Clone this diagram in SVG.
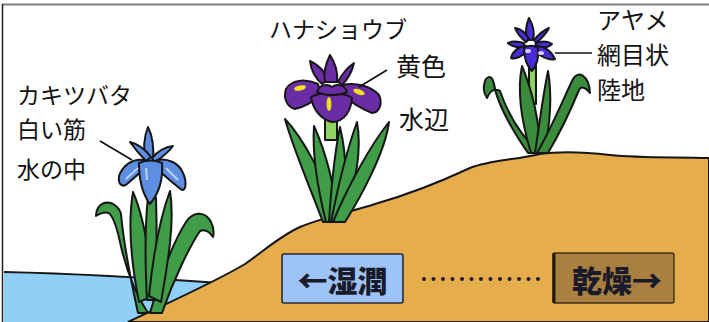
<svg xmlns="http://www.w3.org/2000/svg" width="709" height="322" viewBox="0 0 709 322">
  <style>
    .ol { stroke: #161616; stroke-width: 2; stroke-linejoin: round; stroke-linecap: round; }
    .leaf { fill: #3F9C47; }
    .leafd { fill: #3A8C3C; }
    .stem { fill: #90D262; }
    .blue { fill: #5E8EE2; }
    .purple { fill: #6A2DA6; }
    .violet { fill: #4A2CD6; }
    .yellow { fill: #F2E21C; stroke: none; }
    .lbl { font-family: "Noto Sans CJK JP", "Noto Sans", sans-serif; font-size: 23px; fill: #111; }
    .lbl-l { font-size: 25px; }
    .lbl-r { font-size: 24px; }
    .tag { font-family: "Noto Sans CJK JP", "Noto Sans", sans-serif; font-size: 30px; font-weight: 900; fill: #1A1B2A; }
    .lead { stroke: #111; stroke-width: 1.6; fill: none; }
  </style>

  <rect x="0" y="0" width="709" height="322" fill="#fff"/>

  <!-- frame -->
  <line x1="2" y1="4.5" x2="709" y2="4.5" stroke="#808080" stroke-width="2"/>
  <line x1="2.5" y1="4" x2="2.5" y2="322" stroke="#222" stroke-width="1.5"/>

  <!-- water and ground -->
  <g id="terrain">
    <path d="M4,272 Q100,274 232,284 L232,322 L4,322 Z" fill="#90CFF6"/>
    <path d="M4,272 Q100,274 232,284" fill="none" stroke="#161616" stroke-width="2.2"/>
    <path d="M128,322 C170,302 215,282 245,264 C265,250 280,236 300,227 C325,217 350,212 375,204 C410,194 440,182 470,168 C490,160 515,160 540,154 C560,151 585,152 610,155 C640,158 670,157 709,158 L709,322 Z"
          fill="#E6AD4D" stroke="#161616" stroke-width="2"/>
  </g>

  <!-- plant: カキツバタ -->
  <g id="kakitsubata">
    <path class="ol leaf" d="M138,313 C129,272 123,236 121,214 C119,206 111,201 104,203 C99,205 96,210 96,216 C101,213 106,211 110,214 C114,219 117,228 120,242 C127,274 138,298 148,313 Z"/>
    <path class="ol leaf" d="M150,313 C160,278 172,244 186,222 C194,210 206,212 211,222 C214,228 214,233 213,237 C209,231 204,229 200,231 C190,246 174,278 162,313 Z"/>
    <path class="ol leaf" d="M139,302 C131,262 128,222 133,192 C143,215 150,255 153,296 Z"/>
    <path class="ol leaf" d="M147,300 C145,262 145,224 148,197 L156,198 C157,232 157,266 156,300 Z"/>
    <path class="ol leaf" d="M149,296 C153,256 160,218 170,191 C175,222 168,262 161,302 Z"/>
    <!-- flower -->
    <path class="ol blue" d="M146,162 C143,150 144,137 148,127 C153,137 154,150 153,162 Z"/>
    <path class="ol blue" d="M146,161 C140,155 135,149 130,142 C138,144 145,149 151,157 Z"/>
    <path class="ol blue" d="M152,158 C158,151 165,147 173,146 C168,153 161,158 155,162 Z"/>
    <path class="ol blue" d="M144,160 C133,158 123,165 119,176 C118,184 122,188 127,184 C134,178 141,172 147,166 Z"/>
    <path class="ol blue" d="M157,160 C168,158 179,163 183,173 C187,182 186,190 182,190 C175,185 166,177 155,167 Z"/>
    <path class="ol blue" d="M139,163 C139,177 141,192 150,204 C160,192 163,177 162,163 C155,160 146,160 139,163 Z"/>
    <path d="M126,179 L138,168 M178,180 L166,168 M146,168 L147,180" stroke="#B8D2F6" stroke-width="2" fill="none"/>
  </g>

  <!-- plant: ハナショウブ -->
  <g id="hanashoubu">
    <path class="ol stem" d="M325,112 L337,112 L337,140 L325,140 Z"/>
    <path class="ol leaf" d="M323,222 C309,185 293,148 285,119 C303,138 325,178 338,220 Z"/>
    <path class="ol leaf" d="M326,222 C318,190 312,156 314,126 C327,155 335,190 338,222 Z"/>
    <path class="ol leaf" d="M329,222 C331,190 334,156 340,127 C348,160 346,195 340,222 Z"/>
    <path class="ol leaf" d="M331,222 C338,186 347,150 357,122 C363,155 352,195 342,222 Z"/>
    <path class="ol leaf" d="M333,222 C348,186 370,146 389,122 C385,152 362,195 345,222 Z"/>
    <!-- flower -->
    <path class="ol purple" d="M322,84 C315,78 311,70 310,61 C319,65 325,72 328,80 Z"/>
    <path class="ol purple" d="M338,82 C342,74 348,67 354,63 C352,72 348,79 342,85 Z"/>
    <path class="ol purple" d="M325,82 C323,72 326,63 330,55 C336,64 338,73 337,82 Z"/>
    <path class="ol purple" d="M318,84 C305,78 291,80 286,89 C283,98 287,107 295,109 C305,107 314,101 321,95 Z"/>
    <path class="ol purple" d="M342,85 C356,82 371,86 379,95 C383,104 379,113 372,113 C362,109 352,103 344,96 Z"/>
    <path class="ol purple" d="M311,97 C313,109 320,119 332,122 C345,122 351,110 352,98 C344,92 321,91 311,97 Z"/>
    <path class="ol purple" d="M317,92 C319,85 327,83 332,87 C337,83 345,85 347,92 C339,96 325,96 317,92 Z"/>
    <ellipse class="yellow" cx="300" cy="88" rx="6" ry="2.6" transform="rotate(-12 300 88)"/>
    <ellipse class="yellow" cx="359" cy="92" rx="6" ry="2.6" transform="rotate(20 359 92)"/>
    <ellipse class="yellow" cx="329" cy="104" rx="2.4" ry="7"/>
  </g>

  <!-- plant: アヤメ -->
  <g id="ayame">
    <path class="ol stem" d="M529,66 L536,66 L536,104 L529,104 Z"/>
    <path class="ol leafd" d="M528,153 C511,128 497,104 494,84 C492,74 485,75 484,86 C483,91 485,95 487,98 C490,91 494,88 500,91 C508,114 522,138 541,153 Z"/>
    <path class="ol leafd" d="M531,153 C521,120 517,90 522,66 C532,90 539,120 541,153 Z"/>
    <path class="ol leafd" d="M535,153 C540,120 543,95 548,71 C553,100 549,130 544,153 Z"/>
    <path class="ol leafd" d="M537,153 C553,125 565,95 573,79 C578,70 589,75 590,93 C585,87 581,86 579,90 C570,112 558,136 548,153 Z"/>
    <!-- flower -->
    <path class="ol violet" d="M527,40 C525,32 526,25 529,18 C533,25 535,33 533,40 Z"/>
    <path class="ol violet" d="M526,42 C521,38 517,33 515,28 C521,29 526,33 529,39 Z"/>
    <path class="ol violet" d="M534,40 C539,34 544,30 549,28 C546,34 541,39 536,43 Z"/>
    <path class="ol violet" d="M524,43 C518,41 512,41 508,43 C512,47 518,48 525,47 Z"/>
    <path class="ol violet" d="M536,43 C542,41 548,41 552,44 C548,48 541,48 535,47 Z"/>
    <path class="ol violet" d="M526,46 C519,46 513,51 511,58 C516,60 522,56 528,51 Z"/>
    <path class="ol violet" d="M536,46 C544,46 551,51 555,59 C549,61 542,57 535,52 Z"/>
    <path class="ol violet" d="M524,48 C524,58 527,66 532,71 C537,65 539,57 538,48 C534,45 528,45 524,48 Z"/>
    <ellipse cx="528" cy="51" rx="3" ry="2" fill="#D9CCF2"/>
    <ellipse cx="541" cy="53" rx="3" ry="2" fill="#D9CCF2"/>
  </g>

  <!-- leader lines -->
  <g id="connectors">
    <line class="lead" x1="100" y1="141" x2="132" y2="160"/>
    <line class="lead" x1="387" y1="70" x2="359" y2="87"/>
    <line class="lead" x1="555" y1="53" x2="592" y2="53"/>
  </g>

  <!-- labels -->
  <g id="labels">
    <text class="lbl" x="17" y="104">カキツバタ</text>
    <text class="lbl" x="17" y="138">白い筋</text>
    <text class="lbl" x="17" y="178">水の中</text>
    <text class="lbl" x="269" y="38">ハナショウブ</text>
    <text class="lbl lbl-l" x="396" y="76">黄色</text>
    <text class="lbl lbl-l" x="399" y="129">水辺</text>
    <text class="lbl lbl-r" x="597" y="29">アヤメ</text>
    <text class="lbl lbl-r" x="597" y="64">網目状</text>
    <text class="lbl lbl-r" x="597" y="99">陸地</text>
  </g>

  <!-- moisture scale -->
  <g id="wet">
    <rect x="282" y="254" width="121" height="49" rx="2" fill="#9DC3F7" stroke="#2A2A35" stroke-width="1.6"/>
    <text class="tag" x="342.5" y="292" text-anchor="middle">←湿潤</text>
  </g>
  <g id="scale-dots" fill="#1F2030">
    <circle cx="424" cy="279" r="2"/><circle cx="433.5" cy="279" r="2"/><circle cx="443" cy="279" r="2"/>
    <circle cx="452.5" cy="279" r="2"/><circle cx="462" cy="279" r="2"/><circle cx="471.5" cy="279" r="2"/>
    <circle cx="481" cy="279" r="2"/><circle cx="490.5" cy="279" r="2"/><circle cx="500" cy="279" r="2"/>
    <circle cx="509.5" cy="279" r="2"/><circle cx="519" cy="279" r="2"/><circle cx="528.5" cy="279" r="2"/>
    <circle cx="538" cy="279" r="2"/>
  </g>
  <g id="dry">
    <rect x="553" y="253" width="121" height="50" rx="2" fill="#A9803F" stroke="#3A2E1A" stroke-width="1.4"/>
    <line x1="554" y1="253" x2="554" y2="303" stroke="#1E1A12" stroke-width="3"/>
    <text class="tag" x="617" y="292" text-anchor="middle">乾燥→</text>
  </g>
</svg>
